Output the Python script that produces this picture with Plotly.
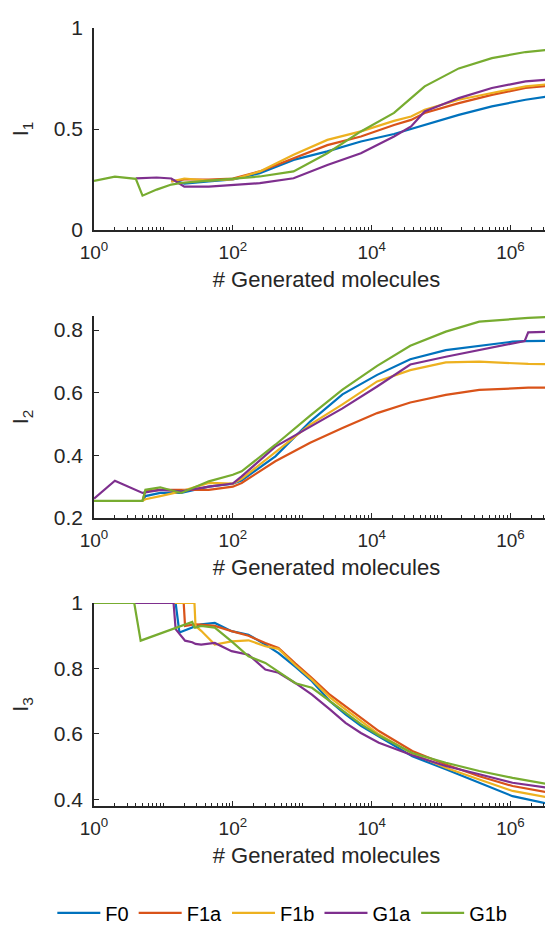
import plotly.graph_objects as go
from plotly.subplots import make_subplots

SERIES = ["F0", "F1a", "F1b", "G1a", "G1b"]
COLORS = ["#0072BD", "#D95319", "#EDB120", "#7E2F8E", "#77AC30"]

# ---- Panel 1 : I1 ----
X1 = [1, 2, 4, 5, 8, 13, 20, 45, 100, 245, 750, 2300, 7000, 21000, 37000, 58000,
      180000, 540000, 1650000, 5000000]
I1_F0 = [None, None, None, None, None, 0.25, 0.23, 0.24, 0.25, 0.281, 0.347, 0.389, 0.438,
         0.475, 0.50, 0.52, 0.57, 0.612, 0.645, 0.669]
I1_F1a = [None, None, None, None, None, 0.24, 0.25, 0.25, 0.255, 0.29, 0.355, 0.42, 0.463,
          0.52, 0.545, 0.579, 0.628, 0.669, 0.703, 0.719]
I1_F1b = [None, None, None, None, None, 0.24, 0.255, 0.245, 0.25, 0.29, 0.372, 0.446, 0.488,
          0.54, 0.562, 0.595, 0.645, 0.678, 0.711, 0.727]
I1_G1a = [None, None, 0.256, 0.258, 0.26, 0.255, 0.215, 0.215, 0.222, 0.232, 0.256, 0.322, 0.38,
          0.463, 0.513, 0.587, 0.653, 0.703, 0.736, 0.749]
I1_G1b = [0.243, 0.264, 0.253, 0.17, 0.2, 0.225, 0.235, 0.245, 0.256, 0.265, 0.29, 0.38, 0.488,
          0.58, 0.653, 0.711, 0.80, 0.851, 0.881, 0.898]

# ---- Panel 2 : I2 ----
X2 = [1, 2, 5, 5.5, 9, 18, 45, 100, 134, 410, 1300, 3800, 12000, 36000, 117000, 355000,
      1070000, 1600000, 1800000, 5000000]
I2_F0 = [None, None, 0.255, 0.27, 0.28, 0.28, 0.30, 0.31, 0.32, 0.397, 0.508, 0.595, 0.657,
         0.707, 0.736, 0.750, 0.763, 0.765, 0.765, 0.766]
I2_F1a = [None, None, 0.255, 0.285, 0.29, 0.29, 0.29, 0.30, 0.312, 0.381, 0.44, 0.487, 0.535,
          0.569, 0.593, 0.609, 0.614, 0.615, 0.616, 0.617]
I2_F1b = [None, None, 0.255, 0.26, 0.27, 0.285, 0.312, 0.31, 0.325, 0.41, 0.498, 0.563, 0.636,
          0.672, 0.697, 0.699, 0.694, 0.693, 0.692, 0.691]
I2_G1a = [0.262, 0.319, 0.28, 0.282, 0.29, 0.285, 0.30, 0.31, 0.333, 0.428, 0.49, 0.55, 0.62,
          0.69, 0.715, 0.736, 0.758, 0.765, 0.793, 0.795]
I2_G1b = [0.255, 0.255, 0.255, 0.29, 0.298, 0.28, 0.317, 0.338, 0.349, 0.434, 0.527, 0.61, 0.686,
          0.75, 0.795, 0.827, 0.835, 0.838, 0.839, 0.843]

# ---- Panel 3 : I3 ----
X3 = [1, 3.8, 4.7, 14, 15, 17, 19.6, 20.5, 26, 28, 29, 35, 55, 96, 168, 294, 455, 800, 1380,
      2500, 4200, 7000, 12700, 38500, 117000, 355000, 1070000, 5000000]
I3_F0 = [None, None, None, 1, 1, 0.91, 0.915, 0.915, 0.925, 0.93, 0.93, 0.935, 0.939, 0.914,
         0.903, 0.873, 0.847, 0.805, 0.761, 0.70, 0.66, 0.625, 0.593, 0.532, 0.492, 0.451, 0.41, 0.38]
I3_F1a = [None, None, None, 1, 1, 1, 1, 0.93, 0.935, 0.935, 0.935, 0.934, 0.93, 0.914, 0.90,
          0.878, 0.863, 0.815, 0.771, 0.72, 0.685, 0.65, 0.609, 0.548, 0.507, 0.471, 0.441, 0.415]
I3_F1b = [None, None, None, 1, 1, 1, 1, 1, 1, 1, 0.93, 0.915, 0.873, 0.883, 0.886, 0.868, 0.86,
          0.81, 0.766, 0.712, 0.675, 0.64, 0.599, 0.540, 0.497, 0.461, 0.426, 0.40]
I3_G1a = [None, 1, 1, 1, 0.92, 0.905, 0.89, 0.885, 0.88, 0.875, 0.875, 0.873, 0.878, 0.853, 0.842,
          0.797, 0.787, 0.755, 0.72, 0.675, 0.634, 0.603, 0.573, 0.535, 0.502, 0.477, 0.451, 0.431]
I3_G1b = [1, 1, 0.885, 0.921, 0.923, 0.927, 0.933, 0.934, 0.942, 0.925, 0.925, 0.93, 0.925, 0.883,
          0.837, 0.817, 0.79, 0.755, 0.741, 0.70, 0.665, 0.63, 0.595, 0.542, 0.512, 0.487, 0.466, 0.441]

PANELS = [
    (X1, [I1_F0, I1_F1a, I1_F1b, I1_G1a, I1_G1b]),
    (X2, [I2_F0, I2_F1a, I2_F1b, I2_G1a, I2_G1b]),
    (X3, [I3_F0, I3_F1a, I3_F1b, I3_G1a, I3_G1b]),
]
Y_TITLES = ["I<sub>1</sub>", "I<sub>2</sub>", "I<sub>3</sub>"]
Y_RANGES = [[0, 1], [0.2, 0.845], [0.38, 1.0]]
Y_TICKS = [[0, 0.5, 1], [0.2, 0.4, 0.6, 0.8], [0.4, 0.6, 0.8, 1]]
Y_TICKTEXT = [["0", "0.5", "1"], ["0.2", "0.4", "0.6", "0.8"], ["0.4", "0.6", "0.8", "1"]]
X_TICKS = [1, 100, 10000, 1000000]
X_TICKTEXT = ["10<sup>0</sup>", "10<sup>2</sup>", "10<sup>4</sup>", "10<sup>6</sup>"]

W, H = 553, 926
ML, MR, MT, MB = 86, 2, 20, 128
TXT = "#262626"
FONT = "Liberation Sans, Arial, Helvetica, sans-serif"

fig = make_subplots(rows=3, cols=1, vertical_spacing=0.05)

for r, (xs, ys_list) in enumerate(PANELS, start=1):
    for name, col, ys in zip(SERIES, COLORS, ys_list):
        fig.add_trace(go.Scatter(x=xs, y=ys, mode="lines", name=name,
                                 line=dict(color=col, width=2.2),
                                 showlegend=(r == 1), legendgroup=name),
                      row=r, col=1)

plot_h = H - MT - MB
def dom(top_px, bot_px):
    return [(H - MB - bot_px) / plot_h, (H - MB - top_px) / plot_h]

DOMAINS = [dom(20, 222), dom(308, 510), dom(595, 798)]

for r in range(1, 4):
    fig.update_xaxes(type="log", range=[0, 6.699], tickmode="array", tickvals=X_TICKS,
                     ticktext=X_TICKTEXT, ticks="inside", ticklen=5, tickwidth=1.3,
                     tickcolor=TXT, showline=True, linecolor=TXT, linewidth=1.5,
                     showgrid=False, zeroline=False, mirror=False,
                     tickfont=dict(size=19, color=TXT, family=FONT),
                     ticklabelstandoff=4,
                     minor=dict(ticks="inside", ticklen=3, tickcolor=TXT, dtick="D1", showgrid=False),
                     title=dict(text="# Generated molecules", font=dict(size=22, color=TXT, family=FONT),
                                standoff=10),
                     row=r, col=1)
    fig.update_yaxes(range=Y_RANGES[r - 1], tickmode="array", tickvals=Y_TICKS[r - 1],
                     ticktext=Y_TICKTEXT[r - 1], ticks="inside", ticklen=5, tickwidth=1.3,
                     tickcolor=TXT, showline=True, linecolor=TXT, linewidth=1.5,
                     showgrid=False, zeroline=False, mirror=False,
                     tickfont=dict(size=21, color=TXT, family=FONT),
                     ticklabelstandoff=5,
                     title=dict(text=Y_TITLES[r - 1], font=dict(size=22, color=TXT, family=FONT),
                                standoff=22),
                     domain=DOMAINS[r - 1], row=r, col=1)

fig.update_layout(
    width=W, height=H,
    margin=dict(l=ML, r=MR, t=MT, b=MB, autoexpand=False),
    paper_bgcolor="white", plot_bgcolor="white",
    font=dict(family=FONT, color=TXT),
    showlegend=True,
    legend=dict(orientation="h", x=0.405, xanchor="center", y=-0.1375, yanchor="middle",
                font=dict(size=20, color="#000000", family=FONT),
                itemwidth=43, tracegroupgap=0, bgcolor="rgba(0,0,0,0)"),
)

fig.write_html("out.html")
